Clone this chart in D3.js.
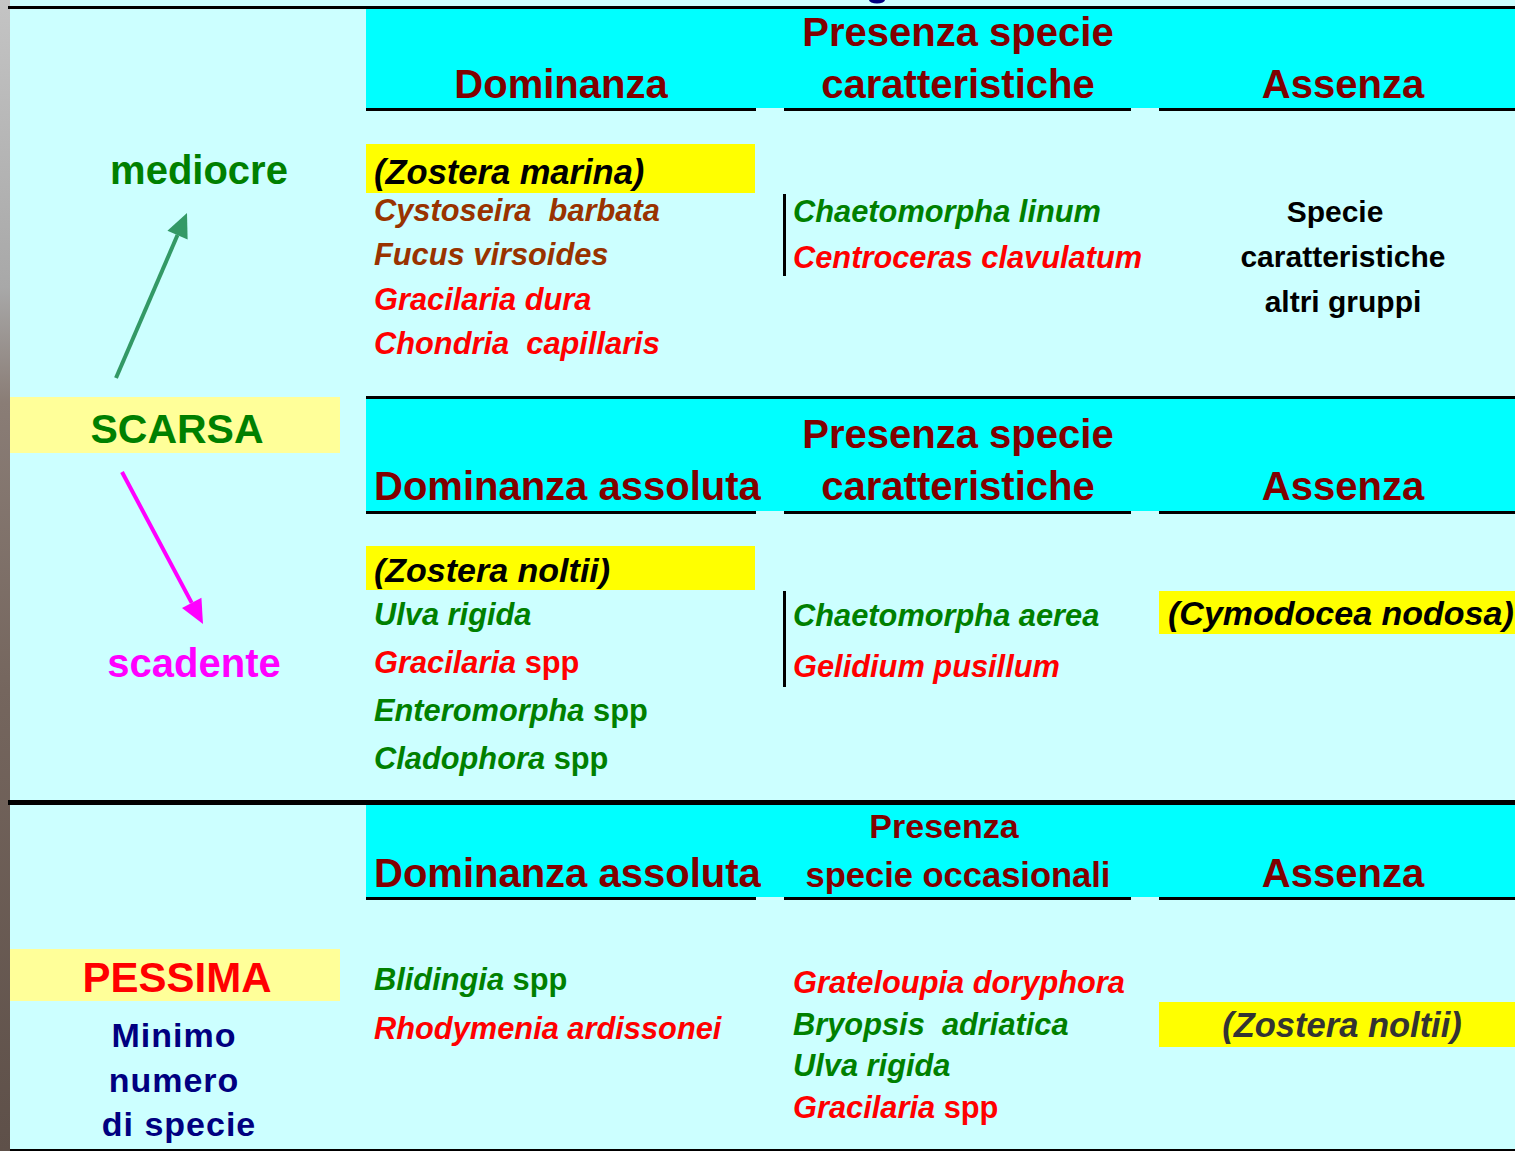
<!DOCTYPE html>
<html>
<head>
<meta charset="utf-8">
<script src="https://cdn.jsdelivr.net/npm/d3@7"></script>
<style>
  html, body { margin: 0; padding: 0; background: #CCFFFF; }
  svg { display: block; }
  text { font-family: "Liberation Sans", Arial, sans-serif; font-weight: bold; white-space: pre; }
</style>
</head>
<body>
<svg id="chart" width="1515" height="1151"></svg>
<script>
// ---------------- DATA ----------------
const sectionKeys = ["mediocre", "scadente", "pessima"];
const headerDominance = ["Dominanza", "Dominanza assoluta", "Dominanza assoluta"];
const headerPresence = [["Presenza specie", "caratteristiche"], ["Presenza specie", "caratteristiche"], ["Presenza", "specie occasionali"]];
const headerAbsence = ["Assenza", "Assenza", "Assenza"];

const qualityLabels = [
  { text: "mediocre", kind: "mediocre" },
  { text: "SCARSA", kind: "scarsa" },
  { text: "scadente", kind: "scadente" },
  { text: "PESSIMA", kind: "pessima" }
];
const pessimaNote = ["Minimo", "numero", "di specie"];

// algal group: brown = Phaeophyta, red = Rhodophyta, green = Chlorophyta
const dominanceMediocre = [
  ["Cystoseira  barbata", "brown"], ["Fucus virsoides", "brown"],
  ["Gracilaria dura", "red"], ["Chondria  capillaris", "red"]
];
const presenceMediocre = [["Chaetomorpha linum", "green"], ["Centroceras clavulatum", "red"]];
const absenceMediocre = ["Specie", "caratteristiche", "altri gruppi"];

const dominanceScadente = [
  ["Ulva rigida", "green"], ["Gracilaria spp", "red"],
  ["Enteromorpha spp", "green"], ["Cladophora spp", "green"]
];
const presenceScadente = [["Chaetomorpha aerea", "green"], ["Gelidium pusillum", "red"]];

const dominancePessima = [["Blidingia spp", "green"], ["Rhodymenia ardissonei", "red"]];
const presencePessima = [
  ["Grateloupia doryphora", "red"], ["Bryopsis  adriatica", "green"],
  ["Ulva rigida", "green"], ["Gracilaria spp", "red"]
];

const seagrasses = [
  { text: "(Zostera marina)", section: "mediocre", column: "dominance" },
  { text: "(Zostera noltii)", section: "scadente", column: "dominance" },
  { text: "(Cymodocea nodosa)", section: "scadente", column: "absence" },
  { text: "(Zostera noltii)", section: "pessima", column: "absence" }
];

// ---------------- STYLE / LAYOUT ----------------
const W = 1515, H = 1151;
const C = {
  bg: "#CCFFFF", head: "#00FFFF", headText: "#800000",
  paleYellow: "#FFFF99", yellow: "#FFFF00",
  brown: "#993300", red: "#FF0000", green: "#008000",
  mediocre: "#008000", scarsa: "#008000", scadente: "#FF00FF", pessima: "#FF0000",
  navy: "#000080", arrowGreen: "#339966", arrowMagenta: "#FF00FF"
};

const svg = d3.select("#chart");

// column scale (left edges of the three table columns)
const colLeft = d3.scaleOrdinal().domain(["dominance", "presence", "absence"]).range([366, 784, 1159]);
const colRight = d3.scaleOrdinal().domain(["dominance", "presence", "absence"]).range([756, 1131, W]);

// section geometry
const sec = {
  mediocre: { top: 9, headBottom: 108, topLine: null, fullLine: 6 },
  scadente: { top: 399, headBottom: 511, topLine: 396, fullLine: null },
  pessima:  { top: 805, headBottom: 897, topLine: null, fullLine: 800 }
};

// left photo strip
const defs = svg.append("defs");
const grad = defs.append("linearGradient").attr("id", "strip").attr("x1", 0).attr("y1", 0).attr("x2", 0).attr("y2", 1);
grad.selectAll("stop").data([["0%", "#c4c4c4"], ["25%", "#a8a8a8"], ["35%", "#8a7d76"], ["60%", "#75665e"], ["100%", "#5e5049"]])
  .join("stop").attr("offset", d => d[0]).attr("stop-color", d => d[1]);

svg.append("rect").attr("width", W).attr("height", H).attr("fill", C.bg);
svg.append("rect").attr("x", 0).attr("y", 0).attr("width", 10).attr("height", H).attr("fill", "url(#strip)");

// fragment of title above (cut off)
svg.append("ellipse").attr("cx", 877).attr("cy", 0).attr("rx", 8).attr("ry", 3.5).attr("fill", C.navy);

// header bands
sectionKeys.forEach((k, i) => {
  const s = sec[k];
  svg.append("rect").attr("x", colLeft("dominance")).attr("y", s.top)
    .attr("width", W - colLeft("dominance")).attr("height", s.headBottom - s.top).attr("fill", C.head);
  svg.selectAll(null).data(colLeft.domain()).join("rect")
    .attr("x", d => colLeft(d)).attr("y", s.headBottom)
    .attr("width", d => colRight(d) - colLeft(d)).attr("height", 3).attr("fill", "#000");
  if (s.topLine !== null) {
    svg.append("rect").attr("x", colLeft("dominance")).attr("y", s.topLine).attr("width", W - colLeft("dominance")).attr("height", 3).attr("fill", "#000");
  }
  if (s.fullLine !== null) {
    svg.append("rect").attr("x", 8).attr("y", s.fullLine).attr("width", W - 8).attr("height", k === "pessima" ? 5 : 3).attr("fill", "#000");
  }
});
svg.append("rect").attr("x", 10).attr("y", 1149).attr("width", W - 10).attr("height", 2).attr("fill", "#000");

// header texts
const headBase = { mediocre: 98, scadente: 500, pessima: 887 };
sectionKeys.forEach((k, i) => {
  const b = headBase[k];
  const dom = headerDominance[i];
  svg.append("text")
    .attr("x", dom.length > 10 ? 374 : 561).attr("y", b)
    .attr("text-anchor", dom.length > 10 ? "start" : "middle")
    .attr("font-size", 40).attr("fill", C.headText).text(dom);
  const pres = headerPresence[i];
  const small = k === "pessima";
  svg.append("text").attr("x", small ? 944 : 958).attr("y", small ? b - 49 : b - 52)
    .attr("text-anchor", "middle").attr("font-size", small ? 34 : 40).attr("fill", C.headText).text(pres[0]);
  svg.append("text").attr("x", 958).attr("y", b)
    .attr("text-anchor", "middle").attr("font-size", small ? 34.5 : 40).attr("fill", C.headText).text(pres[1]);
  svg.append("text").attr("x", 1343).attr("y", b)
    .attr("text-anchor", "middle").attr("font-size", 40).attr("fill", C.headText).text(headerAbsence[i]);
});

// left quality labels
const labelPos = {
  mediocre: { x: 199, y: 184, box: null, size: 40 },
  scarsa:   { x: 177, y: 443, box: [397, 453], size: 41 },
  scadente: { x: 194, y: 677, box: null, size: 40 },
  pessima:  { x: 177, y: 992, box: [949, 1001], size: 42 }
};
qualityLabels.forEach(d => {
  const p = labelPos[d.kind];
  if (p.box) svg.append("rect").attr("x", 10).attr("y", p.box[0]).attr("width", 330).attr("height", p.box[1] - p.box[0]).attr("fill", C.paleYellow);
  svg.append("text").attr("x", p.x).attr("y", p.y).attr("text-anchor", "middle")
    .attr("font-size", p.size).attr("fill", C[d.kind]).text(d.text);
});
const noteY = d3.scaleLinear().domain([0, 1]).range([1047, 1091.5]);
svg.selectAll(null).data(pessimaNote).join("text")
  .attr("x", (d, i) => i === 2 ? 179 : 174).attr("y", (d, i) => noteY(i))
  .attr("text-anchor", "middle").attr("font-size", 34).attr("letter-spacing", 1)
  .attr("fill", C.navy).text(d => d);

// arrows
function arrow(x1, y1, x2, y2, color, len, half) {
  const ang = Math.atan2(y2 - y1, x2 - x1);
  const bx = x2 - len * Math.cos(ang), by = y2 - len * Math.sin(ang);
  svg.append("line").attr("x1", x1).attr("y1", y1).attr("x2", bx).attr("y2", by)
    .attr("stroke", color).attr("stroke-width", 4);
  const px = -Math.sin(ang) * half, py = Math.cos(ang) * half;
  svg.append("path").attr("d", d3.line()([[x2, y2], [bx + px, by + py], [bx - px, by - py]]) + "Z").attr("fill", color);
}
arrow(116, 378, 187, 213, C.arrowGreen, 24, 11);
arrow(122, 472, 203, 624, C.arrowMagenta, 24, 11);

// seagrass highlight boxes
const hlBox = {
  "mediocre-dominance": { y0: 144, y1: 193, base: 184, anchor: "start", x: 374, size: 34.5, fill: "#000" },
  "scadente-dominance": { y0: 546, y1: 590, base: 582, anchor: "start", x: 374, size: 34, fill: "#000" },
  "scadente-absence":   { y0: 591, y1: 634, base: 625, anchor: "start", x: 1168, size: 34, fill: "#000" },
  "pessima-absence":    { y0: 1002, y1: 1047, base: 1037, anchor: "middle", x: 1342, size: 34.5, fill: "#333333" }
};
seagrasses.forEach(d => {
  const b = hlBox[d.section + "-" + d.column];
  svg.append("rect").attr("x", colLeft(d.column)).attr("y", b.y0)
    .attr("width", colRight(d.column) - colLeft(d.column) - (d.column === "dominance" ? 1 : 0)).attr("height", b.y1 - b.y0).attr("fill", C.yellow);
  svg.append("text").attr("x", b.x).attr("y", b.base).attr("text-anchor", b.anchor)
    .attr("font-size", b.size).attr("font-style", "italic").attr("fill", b.fill).text(d.text);
});

// species lists
function speciesList(list, x, y0, step) {
  const y = d3.scaleLinear().domain([0, 1]).range([y0, y0 + step]);
  const t = svg.selectAll(null).data(list).join("text")
    .attr("x", x).attr("y", (d, i) => y(i)).attr("font-size", 30.8).attr("fill", d => C[d[1]]);
  t.each(function(d) {
    const sel = d3.select(this);
    const m = d[0].match(/^(.*?)( spp)$/);
    if (m) {
      sel.append("tspan").attr("font-style", "italic").text(m[1]);
      sel.append("tspan").attr("font-style", "normal").text(m[2]);
    } else {
      sel.append("tspan").attr("font-style", "italic").text(d[0]);
    }
  });
}
speciesList(dominanceMediocre, 374, 220.5, 44.6);
speciesList(presenceMediocre, 793, 221.5, 46.5);
speciesList(dominanceScadente, 374, 625, 48);
speciesList(presenceScadente, 793, 626, 51);
speciesList(dominancePessima, 374, 990, 49);
speciesList(presencePessima, 793, 993, 41.7);

// "Specie caratteristiche altri gruppi"
const absY = d3.scaleLinear().domain([0, 1]).range([222, 267]);
svg.selectAll(null).data(absenceMediocre).join("text")
  .attr("x", (d, i) => i === 0 ? 1335 : 1343).attr("y", (d, i) => absY(i))
  .attr("text-anchor", "middle").attr("font-size", 30).attr("fill", "#000").text(d => d);

// vertical separators in presence column
const vsep = [[194, 276], [591, 687]];
svg.selectAll(null).data(vsep).join("rect")
  .attr("x", 783).attr("y", d => d[0]).attr("width", 3).attr("height", d => d[1] - d[0]).attr("fill", "#000");
</script>
</body>
</html>
